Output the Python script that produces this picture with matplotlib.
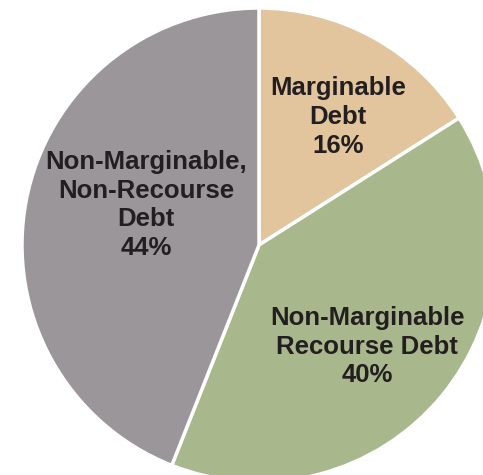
import matplotlib
matplotlib.use('Agg')
import matplotlib.pyplot as plt

# Debt composition (percent)
labels = ['Marginable\nDebt', 'Non-Marginable\nRecourse Debt', 'Non-Marginable,\nNon-Recourse\nDebt']
shares = [16, 40, 44]
colors = ['#e2c59d', '#a9b88c', '#9b969a']

# label anchor points (data units, pie radius = 1)
label_pos = [(0.333, 0.540), (0.456, -0.430), (-0.477, 0.169)]

plt.rcParams['font.family'] = ['Liberation Sans', 'DejaVu Sans']

W, H = 483, 475
cx, cy, r = 259, 245, 237

fig = plt.figure(figsize=(W / 100, H / 100), dpi=100)
ax = fig.add_axes([0, 0, 1, 1])
ax.pie(shares, colors=colors, startangle=90, counterclock=False, radius=1,
       wedgeprops=dict(edgecolor='white', linewidth=2.5))
ax.set_xlim(-cx / r, (W - cx) / r)
ax.set_ylim(-(H - cy) / r, cy / r)
ax.set_aspect('auto')
ax.axis('off')

for lab, val, (x, y) in zip(labels, shares, label_pos):
    ax.text(x, y, f'{lab}\n{val}%', ha='center', va='center', fontsize=18.5,
            fontweight='bold', color='#231f20', linespacing=1.24)

fig.savefig('out.png', dpi=100)
